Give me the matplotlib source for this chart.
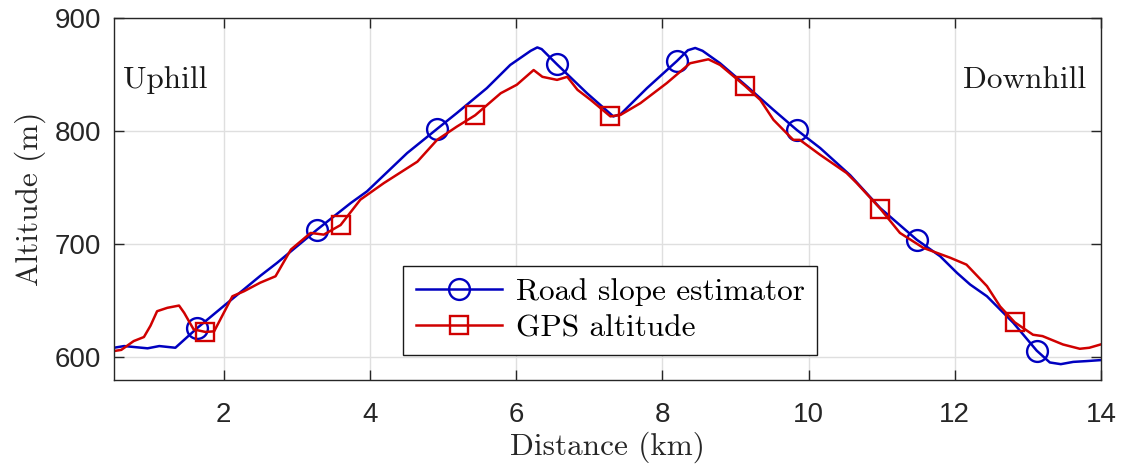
import matplotlib
matplotlib.use("Agg")
import matplotlib.pyplot as plt

# Road slope estimator (blue)
est_km = [0.5, 0.64, 0.8, 0.96, 1.12, 1.34, 1.64, 2.05, 2.5, 2.73, 3.28, 3.74, 3.96,
          4.51, 4.92, 5.19, 5.6, 5.92, 6.2, 6.29, 6.35, 6.56, 6.97, 7.33, 7.43, 7.79,
          8.2, 8.35, 8.45, 8.55, 8.79, 9.16, 9.52, 9.84, 10.16, 10.57, 10.98, 11.48,
          11.8, 12.03, 12.21, 12.44, 12.8, 13.12, 13.3, 13.45, 13.62, 13.8, 14.0]
est_alt = [608.5, 610, 609, 608, 610, 608.5, 626, 648, 672, 683.5, 713, 736.5, 746.7,
           780.6, 802, 816, 838, 858.5, 871, 874, 872.5, 859, 833.5, 813, 815, 838,
           862, 871.5, 873.5, 871, 860, 839.4, 818.8, 801, 785, 761, 732, 704,
           689.4, 674.7, 664.4, 654, 630.6, 606, 595.5, 594, 596, 596.7, 597.6]
est_marks = [1.64, 3.28, 4.92, 6.56, 8.2, 9.84, 11.48, 13.12]

# GPS altitude (red)
gps_km = [0.5, 0.6, 0.77, 0.91, 1.0, 1.09, 1.23, 1.39, 1.46, 1.59, 1.75, 1.87, 2.12,
          2.28, 2.5, 2.71, 2.92, 3.19, 3.37, 3.6, 3.87, 4.19, 4.65, 4.92, 5.19, 5.44,
          5.79, 6.01, 6.24, 6.36, 6.56, 6.7, 6.84, 7.02, 7.29, 7.43, 7.7, 8.06, 8.38,
          8.63, 8.79, 9.13, 9.34, 9.52, 9.79, 9.88, 10.16, 10.52, 10.66, 10.98, 11.25,
          11.57, 11.94, 12.16, 12.44, 12.62, 12.82, 13.07, 13.2, 13.48, 13.71, 13.84,
          14.0]
gps_alt = [605.6, 606.6, 614.4, 618, 628, 640.8, 643.8, 645.8, 639.4, 624.7, 622.5, 623,
           654, 658.5, 666, 671.7, 695.3, 710, 708.5, 717, 739.4, 754, 773, 792.3, 804,
           814, 833.5, 841, 854, 848, 845.3, 848, 836.5, 827.6, 813, 814.4, 824.7, 842.4,
           860, 863.5, 858.5, 840, 827.6, 810, 792.3, 792.3, 779, 763, 754, 731.5, 710,
           696.8, 688, 682, 663, 645, 631, 620, 618.8, 611.4, 607.6, 608.5, 611.5]
gps_marks = [1.75, 3.6, 5.44, 7.29, 9.13, 10.98, 12.82]

BLUE = "#0000c0"
RED = "#d00000"
AX_COL = "#262626"

fig = plt.figure(figsize=(11.26, 4.70), dpi=100)
ax = fig.add_axes([0.1012, 0.1915, 0.8766, 0.7702])

ax.plot(est_km, est_alt, color=BLUE, lw=1.8, marker="o", ms=15, mfc="none",
        mew=1.7, markevery=[est_km.index(v) for v in est_marks],
        label="Road slope estimator")
ax.plot(gps_km, gps_alt, color=RED, lw=1.8, marker="s", ms=13.5, mfc="none",
        mew=1.7, markevery=[gps_km.index(v) for v in gps_marks],
        label="GPS altitude")

ax.set_xlim(0.5, 14)
ax.set_ylim(580, 900)
ax.set_xticks([2, 4, 6, 8, 10, 12, 14])
ax.set_yticks([600, 700, 800, 900])
ax.grid(True, color="#dfdfdf", lw=1)
ax.set_axisbelow(True)
ax.tick_params(direction="in", length=7, width=1, top=True, right=True,
               colors=AX_COL, labelsize=20)
ax.tick_params(axis="x", pad=15.5)
ax.tick_params(axis="y", pad=9.5)
for lab in ax.get_xticklabels() + ax.get_yticklabels():
    lab.set_family("Liberation Sans")
for s in ax.spines.values():
    s.set_color(AX_COL)
    s.set_linewidth(1)

serif = "cmr10"
ax.set_xlabel("Distance (km)", family=serif, fontsize=22.5, color=AX_COL, labelpad=3)
ax.set_ylabel("Altitude (m)", family=serif, fontsize=22.5, color=AX_COL, labelpad=6)

ax.text(0.63, 845, "Uphill", family=serif, fontsize=22.5, color="#1a1a1a",
        ha="left", va="center")
ax.text(13.8, 845, "Downhill", family=serif, fontsize=22.5, color="#1a1a1a",
        ha="right", va="center")

leg = ax.legend(loc="upper left", bbox_to_anchor=(0.293, 0.315), borderaxespad=0,
                fancybox=False, framealpha=1, edgecolor="#1a1a1a",
                prop={"family": serif, "size": 22.5}, handlelength=2.75,
                handletextpad=0.45, borderpad=0.4, labelspacing=0.25)
leg.get_frame().set_linewidth(1)

fig.savefig("out.png", dpi=100)
